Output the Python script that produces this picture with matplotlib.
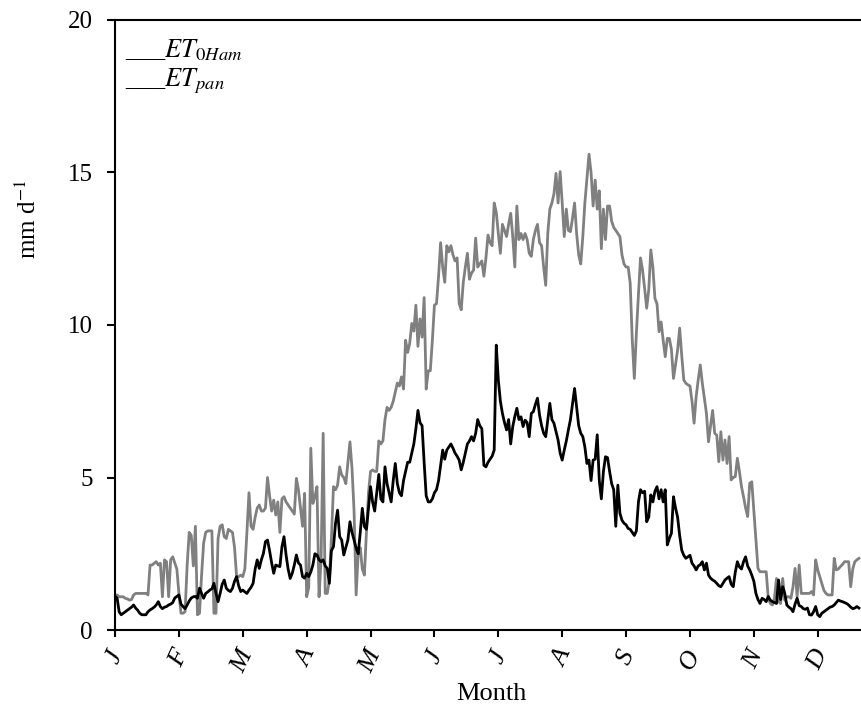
import matplotlib
matplotlib.use("Agg")
import matplotlib.pyplot as plt
import numpy as np

plt.rcParams['font.family'] = ['Liberation Serif', 'DejaVu Serif']
plt.rcParams['mathtext.fontset'] = 'stix'

# daily values, mm/d
et_pan = [
    1.15, 1.15, 1.09, 1.09, 1.09, 1.04, 1.02, 0.98, 1.0, 1.15,
    1.2, 1.2, 1.2, 1.2, 1.2, 1.2, 1.15, 2.13, 2.13, 2.19,
    2.24, 2.13, 2.19, 1.09, 2.3, 2.24, 1.09, 2.3, 2.4, 2.2,
    2.0, 1.2, 0.55, 0.55, 0.6, 2.13, 3.2, 3.1, 2.1, 3.4,
    0.5, 0.55, 1.8, 2.85, 3.2, 3.25, 3.25, 3.25, 0.55, 0.55,
    3.0, 3.4, 3.45, 3.06, 3.0, 3.3, 3.25, 3.2, 2.7, 1.75,
    1.75, 1.8, 1.75, 2.0, 3.2, 4.5, 3.4, 3.3, 3.7, 4.0,
    4.1, 3.9, 3.9, 4.0, 5.0, 4.4, 3.9, 4.26, 3.77, 4.2,
    3.2, 4.3, 4.37, 4.2, 4.1, 4.0, 3.9, 3.8, 4.97, 4.6,
    4.0, 3.4, 4.48, 1.09, 1.4, 5.96, 4.15, 4.37, 4.7, 1.09,
    2.3, 6.45, 1.2, 1.2, 1.64, 3.0, 4.7, 4.6, 4.75, 5.35,
    5.08, 5.0, 4.8, 5.5, 6.17, 5.3, 3.9, 1.15, 2.5, 2.7,
    2.0, 1.8, 3.2, 4.5, 5.2, 5.25, 5.2, 5.2, 6.2, 6.1,
    6.2, 6.9, 7.3, 7.2, 7.3, 7.5, 7.8, 8.1, 8.0, 8.3,
    7.9, 9.5, 9.1, 9.4, 10.05, 9.8, 10.65, 9.3, 10.2, 9.6,
    10.9, 7.9, 8.5, 8.5, 9.5, 10.65, 10.7, 11.6, 12.7, 11.9,
    11.4, 12.6, 12.4, 12.6, 12.3, 12.1, 12.2, 10.7, 10.5, 11.4,
    11.9, 12.35, 11.5, 11.7, 11.8, 12.85, 11.9, 12.0, 12.1, 11.6,
    12.2, 12.95, 12.7, 12.6, 14.0, 13.7, 13.0, 12.35, 13.3, 13.1,
    12.9, 13.3, 13.66, 12.9, 11.9, 13.9, 12.8, 13.0, 12.8, 13.0,
    12.8, 12.35, 12.25, 12.8, 13.1, 13.3, 12.7, 12.6, 11.9, 11.3,
    13.0, 13.8, 14.0, 14.3, 14.97, 14.0, 15.03, 14.0, 12.9, 13.8,
    13.1, 13.06, 13.5, 14.0, 13.0, 12.3, 12.0, 12.9, 14.0, 14.8,
    15.6, 15.0, 13.9, 14.75, 13.8, 14.4, 12.5, 13.8, 12.8, 13.9,
    13.9, 13.4, 13.2, 13.1, 13.0, 12.9, 12.3, 12.0, 11.9, 11.9,
    11.37, 9.5, 8.25, 9.73, 11.0, 12.2, 11.8, 11.2, 10.55, 11.15,
    12.46, 11.9, 10.87, 10.7, 9.78, 10.1, 9.5, 8.96, 9.56, 9.56,
    9.2, 8.25, 8.7, 9.18, 9.9, 9.0, 8.2, 8.09, 8.04, 8.0,
    7.5, 6.78, 7.65, 8.2, 8.69, 8.09, 7.6, 7.1, 6.17, 6.7,
    7.2, 6.45, 6.39, 5.52, 6.5, 5.57, 6.23, 5.46, 6.34, 4.92,
    5.0, 5.03, 5.63, 5.2, 4.7, 4.37, 4.0, 3.72, 4.81, 4.86,
    3.93, 3.0, 2.02, 1.91, 1.91, 1.91, 1.91, 1.04, 0.87, 0.82,
    1.04, 1.69, 0.93, 0.87, 1.69, 0.98, 1.09, 1.09, 1.04, 1.42,
    2.02, 1.09, 2.13, 1.2, 1.2, 1.2, 1.2, 1.2, 1.26, 1.15,
    2.3, 1.97, 1.75, 1.53, 1.3, 1.2, 1.15, 1.15, 1.15, 2.35,
    1.97, 2.0, 2.08, 2.15, 2.24, 2.24, 2.24, 1.42, 2.0, 2.24,
    2.3, 2.35,
]

et0_ham = [
    1.1, 1.05, 0.6, 0.5, 0.55, 0.6, 0.65, 0.7, 0.75, 0.82,
    0.72, 0.65, 0.55, 0.5, 0.5, 0.5, 0.6, 0.66, 0.7, 0.75,
    0.82, 0.93, 0.77, 0.7, 0.75, 0.77, 0.82, 0.85, 0.9, 1.05,
    1.1, 1.15, 0.85, 0.77, 0.7, 0.82, 0.95, 1.05, 1.09, 1.1,
    1.04, 1.37, 1.2, 1.04, 1.2, 1.25, 1.31, 1.35, 1.53, 1.2,
    0.93, 1.2, 1.5, 1.64, 1.37, 1.3, 1.26, 1.37, 1.6, 1.75,
    1.45, 1.26, 1.31, 1.25, 1.2, 1.31, 1.4, 1.53, 2.0, 2.3,
    2.02, 2.3, 2.51, 2.9, 2.95, 2.6, 2.2, 1.86, 2.13, 2.1,
    2.08, 2.73, 3.06, 2.46, 2.0, 1.69, 1.86, 2.13, 2.46, 2.2,
    2.13, 1.75, 1.7, 1.86, 1.75, 1.9, 2.13, 2.5, 2.46, 2.3,
    2.24, 2.3, 2.1, 2.02, 1.53, 2.6, 2.73, 3.5, 3.93, 3.06,
    2.95, 2.46, 2.7, 2.95, 3.55, 3.2, 2.95, 2.68, 2.5, 3.2,
    3.99, 3.39, 3.3, 4.0, 4.7, 4.2, 3.9, 4.5, 5.1, 4.3,
    4.2, 5.35, 4.8, 4.5, 4.2, 4.9, 5.46, 4.8, 4.5, 4.4,
    4.9, 5.2, 5.5, 5.5, 5.8, 6.1, 6.6, 7.2, 6.8, 6.7,
    5.5, 4.4, 4.2, 4.2, 4.3, 4.5, 4.6, 4.9, 5.4, 5.9,
    5.6, 5.9, 6.0, 6.1, 5.96, 5.8, 5.7, 5.57, 5.25, 5.5,
    5.8, 6.1, 6.2, 6.34, 6.2, 6.45, 6.9, 6.7, 6.6, 5.4,
    5.35, 5.5, 5.6, 5.7, 5.9, 9.34, 8.2, 7.5, 7.1, 6.8,
    6.56, 6.9, 6.1, 6.67, 7.0, 7.27, 6.9, 6.99, 6.67, 6.88,
    6.8, 6.34, 7.1, 7.16, 7.4, 7.6, 7.05, 6.7, 6.45, 6.34,
    6.9, 7.43, 6.9, 6.78, 6.5, 6.23, 5.8, 5.57, 5.9, 6.2,
    6.56, 6.9, 7.4, 7.92, 7.32, 6.7, 6.45, 6.34, 6.0, 5.46,
    5.57, 4.9, 5.57, 5.6, 6.4, 4.9, 4.3, 5.2, 5.68, 5.65,
    5.2, 4.8, 4.6, 3.4, 4.75, 3.83, 3.6, 3.5, 3.45, 3.33,
    3.3, 3.2, 3.1, 3.25, 4.2, 4.6, 4.5, 4.55, 3.55, 3.7,
    4.43, 4.2, 4.55, 4.7, 4.3, 4.6, 4.2, 4.6, 2.79, 3.0,
    3.17, 4.37, 4.0, 3.7, 3.1, 2.62, 2.45, 2.35, 2.4, 2.45,
    2.19, 2.1, 1.97, 2.1, 2.14, 2.24, 1.97, 2.19, 1.8, 1.7,
    1.64, 1.6, 1.53, 1.45, 1.42, 1.53, 1.64, 1.7, 1.75, 1.5,
    1.42, 1.9, 2.24, 2.07, 2.0, 2.24, 2.4, 2.1, 1.97, 1.8,
    1.6, 1.2, 1.0, 0.87, 1.04, 1.0, 0.93, 1.1, 0.98, 0.93,
    0.9, 0.87, 1.64, 1.0, 1.42, 1.2, 0.82, 0.75, 0.7, 0.6,
    0.85, 1.04, 0.8, 0.77, 0.7, 0.68, 0.72, 0.5, 0.49, 0.6,
    0.77, 0.5, 0.44, 0.55, 0.6, 0.65, 0.7, 0.75, 0.77, 0.82,
    0.9, 0.98, 0.95, 0.93, 0.9, 0.87, 0.82, 0.75, 0.7, 0.72,
    0.77, 0.72,
]

months = ['J', 'F', 'M', 'A', 'M', 'J', 'J', 'A', 'S', 'O', 'N', 'D']
month_len = 31
y_ticks = [0, 5, 10, 15, 20]

days_pan = np.arange(len(et_pan))
days_ham = np.arange(len(et0_ham))

fig = plt.figure(figsize=(8.61, 7.11), dpi=100)
ax = fig.add_axes([0.1336, 0.1139, 0.8664, 0.858])

ax.plot(days_pan, et_pan, color='#808080', lw=2.0)
ax.plot(days_ham, et0_ham, color='black', lw=2.0)

ax.set_xlim(0, 362)
ax.set_ylim(0, 20)
ax.set_yticks(y_ticks)
ax.set_xticks(np.arange(len(months)) * month_len)
ax.set_xticklabels(months, rotation=65, fontstyle='italic', fontsize=19)
ax.tick_params(axis='y', labelsize=18, direction='out', length=6, width=1.5, pad=10)
ax.tick_params(axis='x', direction='out', length=5, width=1.5, pad=7)

for s in ['left', 'bottom', 'top']:
    ax.spines[s].set_linewidth(1.5)
ax.spines['right'].set_visible(False)

fig.text(491 / 861, 1 - 700 / 711, 'Month', ha='center', va='baseline', fontsize=19)
fig.text(28 / 861, 1 - 220 / 711, 'mm d$^{-1}$', rotation=90, ha='center', va='center', fontsize=18)

fig.text(125 / 861, 1 - 57 / 711, '___$ET_{0Ham}$', ha='left', va='baseline', fontsize=19)
fig.text(125 / 861, 1 - 86 / 711, '___$ET_{pan}$', ha='left', va='baseline', fontsize=19)

fig.savefig('out.png', dpi=100)
